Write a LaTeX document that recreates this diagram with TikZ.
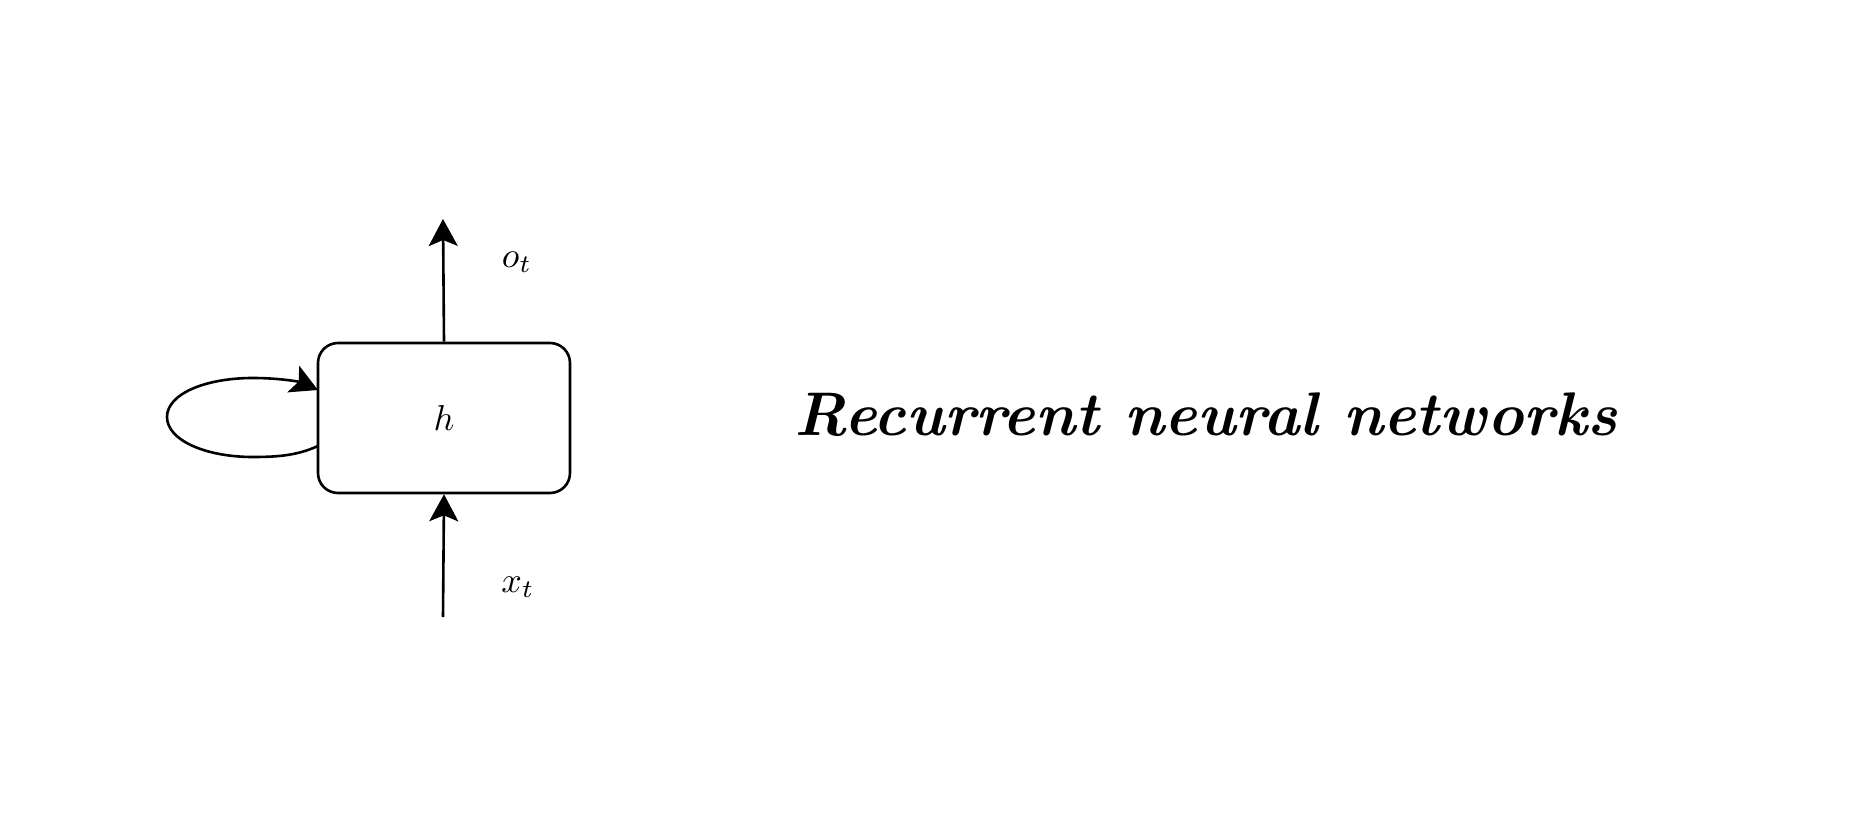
\documentclass[tikz,border=0pt]{standalone}
\usetikzlibrary{arrows.meta}
\tikzset{
  line/.style={line width=2.6pt, draw=black},
  tip/.style={-{Stealth[length=27pt,width=29pt,inset=6pt]}},
  cellbox/.style={line, rounded corners=20pt, minimum width=252pt, minimum height=150pt, inner sep=0pt},
  lbl/.style={inner sep=0pt},
}
\newcommand{\biglbl}[1]{\scalebox{3.6}{$#1$}}
\begin{document}
\begin{tikzpicture}[x=1pt,y=-1pt]
\useasboundingbox (0,0) rectangle (1874,818);
\node[cellbox, lbl] (h) at (444,418) {\biglbl{h}};
\coordinate (otop) at (443,219);
\coordinate (xbot) at (443,617);
\coordinate (lp1) at (318,446);
\coordinate (lp2) at (318,390);
\draw[line,tip] (h.north) -- (otop);
\draw[line,tip] (xbot) -- (h.south);
\draw[line,tip] (lp1) .. controls (298,455) and (280,457) .. (253,457)
  .. controls (205,457) and (167,440) .. (167,417)
  .. controls (167,394) and (205,378) .. (253,378)
  .. controls (280,378) and (300,382) .. (lp2);
\node[lbl] (ot) at (517,262) {\biglbl{o_t}};
\node[lbl] (xt) at (518,587) {\biglbl{x_t}};
\node[inner sep=0pt] (title) at (1206,415) {\resizebox{822pt}{!}{\bfseries\itshape Recurrent neural networks}};
\end{tikzpicture}
\end{document}
